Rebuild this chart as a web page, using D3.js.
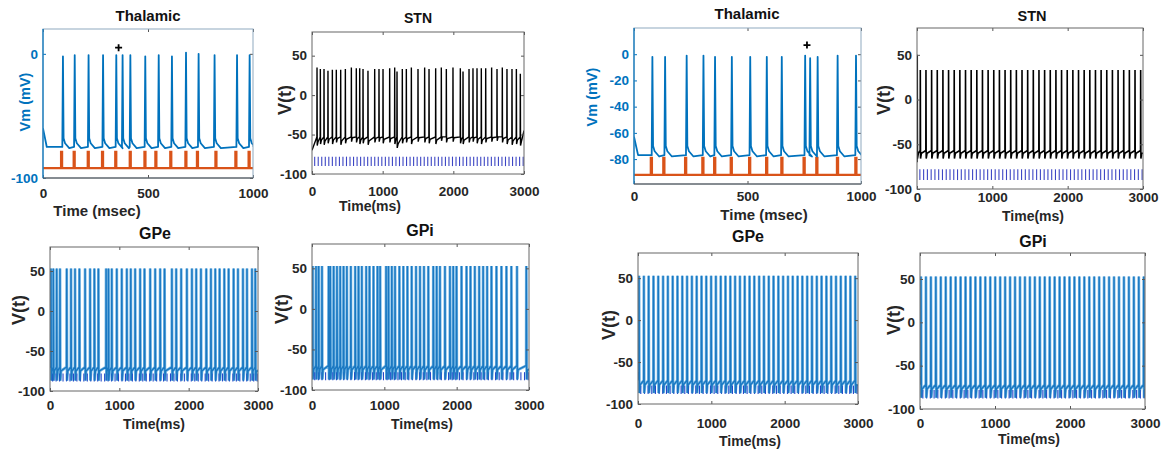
<!DOCTYPE html>
<html>
<head>
<meta charset="utf-8">
<script src="https://cdn.jsdelivr.net/npm/d3@7"></script>
<style>
  body { margin: 0; background: #fff; }
  svg text { font-family: "Liberation Sans", Arial, sans-serif; font-weight: bold; }
</style>
</head>
<body>
<svg id="fig" width="1165" height="455"></svg>
<script>
// ---- data (times in ms, voltages in mV) ----

// Thalamic, left figure
const thalLSpikes = [95, 151, 217, 286, 349, 379, 416, 487, 551, 614, 681, 741, 817, 924, 984];
const thalLPeaks  = [-2, -1, -1, -1, -1, -1, -1, -2, -1, -2, 1, 0, -1, -1, -1];
const thalLPulses = [86, 146, 213, 281, 344, 413, 483, 535, 606, 678, 733, 821, 916, 979];
const thalLMark   = [360, 5];

// Thalamic, right figure
const thalRSpikes = [81, 137, 232, 306, 357, 431, 512, 585, 651, 754, 776, 809, 897, 978];
const thalRPeaks  = [-2, -2, -1, -1, -2, -2, -2, -2, -2, -1, -3, -2, -1, -1];
const thalRPulses = [74, 129, 225, 301, 353, 426, 507, 582, 649, 747, 803, 894, 975];
const thalRMark   = [762, 7];

// STN, left figure (irregular)
const stnLSpikes = [71, 118, 170, 226, 288, 344, 406, 472, 557, 627, 675, 722, 792, 887, 948,
  1005, 1099, 1170, 1203, 1278, 1335, 1406, 1500, 1594, 1656, 1750, 1830, 1901, 1995, 2099,
  2137, 2222, 2278, 2335, 2396, 2458, 2542, 2618, 2693, 2759, 2830, 2892, 2948];
const stnLPeaks = [35, 33, 33, 31, 32, 32, 32, 33, 35, 34, 34, 33, 31, 33, 33,
  33, 34, 35, 30, 33, 33, 35, 33, 35, 33, 34, 35, 33, 35, 34,
  30, 33, 34, 34, 34, 34, 35, 33, 35, 33, 33, 33, 27];
const stnLTroughs = [-64, -62, -63, -61, -62, -60, -63, -61, -59, -60, -62, -61, -63, -60, -59,
  -61, -60, -62, -67, -61, -60, -62, -59, -60, -61, -62, -58, -60, -59, -61,
  -62, -60, -59, -61, -62, -60, -59, -58, -60, -62, -63, -62, -64];

// STN, right figure (regular)
const stnRSpikes = [3, 44, 119, 194, 269, 344, 419, 494, 569, 644, 719, 794, 869, 944, 1019,
  1094, 1169, 1244, 1319, 1394, 1469, 1544, 1619, 1694, 1769, 1844, 1919, 1994, 2069, 2144,
  2219, 2294, 2369, 2444, 2519, 2594, 2669, 2744, 2819, 2894, 2969];
const stnRPeaks = [50, 33, 33, 33, 33, 33, 33, 33, 33, 33, 33, 33, 33, 33, 33,
  33, 33, 33, 33, 33, 33, 33, 33, 33, 33, 33, 33, 33, 33, 33,
  33, 33, 33, 33, 33, 33, 33, 33, 33, 33, 33];

// input pulse train (blue ticks)
const pulseTimes = [38, 88, 138, 188, 238, 288, 338, 388, 438, 488, 538, 588, 638, 688, 738,
  788, 838, 888, 938, 988, 1038, 1088, 1138, 1188, 1238, 1288, 1338, 1388, 1438, 1488,
  1538, 1588, 1638, 1688, 1738, 1788, 1838, 1888, 1938, 1988, 2038, 2088, 2138, 2188, 2238,
  2288, 2338, 2388, 2438, 2488, 2538, 2588, 2638, 2688, 2738, 2788, 2838, 2888, 2938, 2988];

// GPe / GPi spike times
const gpeLSpikes = [14, 48, 96, 144, 241, 303, 361, 424, 506, 578, 640, 698, 809, 843, 891,
  963, 1035, 1108, 1165, 1228, 1300, 1363, 1445, 1517, 1589, 1652, 1758, 1820, 1892, 1974,
  2047, 2109, 2177, 2254, 2321, 2384, 2446, 2514, 2576, 2648, 2711, 2783, 2841, 2913, 2961];
const gpiLSpikes = [9, 55, 92, 138, 230, 253, 299, 345, 390, 436, 482, 537, 597, 643, 689,
  749, 795, 850, 905, 942, 1024, 1057, 1103, 1148, 1208, 1263, 1319, 1378, 1438, 1493,
  1548, 1608, 1677, 1723, 1769, 1838, 1907, 1953, 1998, 2067, 2136, 2191, 2251, 2311, 2366,
  2421, 2481, 2550, 2619, 2688, 2756, 2834, 2963];
const gpeRSpikes = [14, 80, 145, 211, 276, 342, 407, 473, 538, 604, 669, 735, 800, 866, 931,
  997, 1062, 1128, 1193, 1259, 1324, 1390, 1455, 1521, 1586, 1652, 1717, 1783, 1848, 1914,
  1979, 2045, 2110, 2176, 2241, 2307, 2372, 2438, 2503, 2569, 2634, 2700, 2765, 2831, 2896, 2962];
const gpiRSpikes = [13, 79, 145, 211, 277, 343, 409, 475, 541, 607, 673, 739, 805, 871, 937,
  1003, 1069, 1135, 1201, 1267, 1333, 1399, 1465, 1531, 1597, 1663, 1729, 1795, 1861, 1927,
  1993, 2059, 2125, 2191, 2257, 2323, 2389, 2455, 2521, 2587, 2653, 2719, 2785, 2851, 2917, 2983];

const thalTicksX = [0, 500, 1000];
const longTicksX = [0, 1000, 2000, 3000];
const thalLTicksY = [-100, 0];
const thalRTicksY = [-80, -60, -40, -20, 0];
const vTicksY = [-100, -50, 0, 50];

// ---- drawing ----
const svg = d3.select("#fig");
const BLUE = "#0072BD";
const ORANGE = "#D95319";
const line = (x, y) => d3.line().x(d => x(d[0])).y(d => y(d[1]));

// thalamic membrane trace built around the spike times
function thalTrace(spikes, peaks, start, rest) {
  const pts = [[0, start], [18, rest + 1]];
  spikes.forEach((t, i) => {
    pts.push([t - 3, rest + 1]);
    pts.push([t, peaks[i]]);
    pts.push([t + 3, rest + 8]);
    pts.push([t + 10, rest + 4]);
    pts.push([t + 30, rest]);
  });
  pts.push([1000, rest + 2]);
  return pts;
}

// orange stimulus pulse train
function pulseTrace(pulses, base, top) {
  const pts = [[0, base]];
  pulses.forEach(t => {
    pts.push([t, base], [t, top], [t + 5, top], [t + 5, base]);
  });
  pts.push([1000, base]);
  return pts;
}

// fast spiking trace (STN / GP)
function spikeTrace(spikes, peaks, troughs, o) {
  const pts = [[0, o.start]];
  spikes.forEach((t, i) => {
    pts.push([t - 2, o.pre]);
    pts.push([t, peaks[i]]);
    pts.push([t + o.fall, troughs[i]]);
    pts.push([t + 15, troughs[i] + o.recover]);
  });
  pts.push([3000, o.end]);
  return pts;
}

function drawTicks(g, x, y, times, lo, hi, color, w) {
  g.selectAll(null).data(times).enter().append("line")
    .attr("x1", d => x(d)).attr("x2", d => x(d))
    .attr("y1", y(lo)).attr("y2", y(hi))
    .attr("stroke", color).attr("stroke-width", w);
}

function panel(c) {
  const x = d3.scaleLinear().domain(c.xDomain).range([c.x0, c.x1]);
  const y = d3.scaleLinear().domain(c.yDomain).range([c.y1, c.y0]);
  const g = svg.append("g");
  svg.append("clipPath").attr("id", "clip-" + c.id).append("rect")
    .attr("x", c.x0).attr("y", c.y0).attr("width", c.x1 - c.x0).attr("height", c.y1 - c.y0);

  const plot = g.append("g").attr("clip-path", `url(#clip-${c.id})`);
  c.draw(plot, x, y);

  const fmt = d => String(d);
  const ax = g.append("g").attr("transform", `translate(0,${c.y1})`)
    .call(d3.axisBottom(x).tickValues(c.xTicks).tickSize(-3).tickPadding(c.xPad).tickFormat(fmt));
  ax.selectAll("text").attr("fill", "#262626").style("font-size", "13.5px");
  const axT = g.append("g").attr("transform", `translate(0,${c.y0})`)
    .call(d3.axisTop(x).tickValues(c.xTicks).tickSize(-3).tickFormat(""));
  const ay = g.append("g").attr("transform", `translate(${c.x0},0)`)
    .call(d3.axisLeft(y).tickValues(c.yTicks).tickSize(-3).tickPadding(5).tickFormat(fmt));
  ay.selectAll("text").attr("fill", c.yColor || "#262626").style("font-size", "13.5px");
  const ayR = g.append("g").attr("transform", `translate(${c.x1},0)`)
    .call(d3.axisRight(y).tickValues(c.yTicks).tickSize(-3).tickFormat(""));
  [ax, axT, ay, ayR].forEach(a => {
    a.select(".domain").remove();
    a.selectAll(".tick line").attr("stroke", "#555");
  });
  ay.selectAll(".tick line").attr("stroke", c.yColor || "#555");

  // box
  g.append("rect").attr("x", c.x0).attr("y", c.y0)
    .attr("width", c.x1 - c.x0).attr("height", c.y1 - c.y0)
    .attr("fill", "none").attr("stroke", c.boxColor || "#666").attr("stroke-width", 1);
  if (c.yColor) {
    g.append("line").attr("x1", c.x0).attr("x2", c.x0).attr("y1", c.y0).attr("y2", c.y1)
      .attr("stroke", c.yColor).attr("stroke-width", 1.2);
    g.append("line").attr("x1", c.x0).attr("x2", c.x1).attr("y1", c.y1).attr("y2", c.y1)
      .attr("stroke", "#444").attr("stroke-width", 1);
  }

  g.append("text").attr("x", c.titleX).attr("y", c.titleY).attr("text-anchor", "middle")
    .attr("dominant-baseline", "middle").style("font-size", c.titleSize + "px")
    .attr("fill", "#111").text(c.title);
  g.append("text").attr("x", c.xlabX).attr("y", c.xlabY).attr("text-anchor", "middle")
    .attr("dominant-baseline", "middle").style("font-size", c.xlabSize + "px")
    .attr("fill", "#262626").text(c.xlab);
  g.append("text").attr("transform", `translate(${c.ylabX},${c.ylabY}) rotate(-90)`)
    .attr("text-anchor", "middle").attr("dominant-baseline", "middle")
    .style("font-size", c.ylabSize + "px").attr("fill", c.yColor || "#262626").text(c.ylab);
}

function drawThal(spikes, peaks, pulses, mark, start, rest) {
  return (g, x, y) => {
    g.append("path").datum(pulseTrace(pulses, -92, -79)).attr("d", line(x, y))
      .attr("fill", "none").attr("stroke", ORANGE).attr("stroke-width", 2.2);
    g.append("path").datum(thalTrace(spikes, peaks, start, rest)).attr("d", line(x, y))
      .attr("fill", "none").attr("stroke", BLUE).attr("stroke-width", 1.8)
      .attr("stroke-linejoin", "round");
    const mx = x(mark[0]), my = y(mark[1]);
    g.append("path").attr("d", `M${mx - 3.5},${my}H${mx + 3.5}M${mx},${my - 3.5}V${my + 3.5}`)
      .attr("stroke", "#000").attr("stroke-width", 1.8);
  };
}

function drawStn(spikes, peaks, troughs, o) {
  return (g, x, y) => {
    drawTicks(g, x, y, pulseTimes, -90, -78, "#3d46c4", 1.1);
    g.append("path").datum(spikeTrace(spikes, peaks, troughs, o)).attr("d", line(x, y))
      .attr("fill", "none").attr("stroke", "#000").attr("stroke-width", o.width);
  };
}

function drawGp(spikes, o) {
  const peaks = spikes.map(() => 53);
  const troughs = spikes.map(() => o.trough);
  return (g, x, y) => {
    const pts = spikeTrace(spikes, peaks, troughs, o);
    g.append("path").datum(pts).attr("d", line(x, y))
      .attr("fill", "none").attr("stroke", "#74b6e4").attr("stroke-width", 2.8);
    drawTicks(g, x, y, pulseTimes, -88, -78, "#2448c8", 1.1);
    g.append("path").datum(pts).attr("d", line(x, y))
      .attr("fill", "none").attr("stroke", "#1a78c2").attr("stroke-width", 1.4);
  };
}

const stnLOpts = { start: -70, pre: -53, fall: 3, recover: 5, end: -45, width: 1.4 };
const stnRTroughs = stnRSpikes.map(() => -66);
const stnROpts = { start: -70, pre: -57, fall: 3, recover: 6, end: -60, width: 1.6 };
const gpLOpts = { start: -70, pre: -70, fall: 5, recover: 12, end: -75, trough: -87 };
const gpROpts = { start: -62, pre: -72, fall: 5, recover: 10, end: -78, trough: -87 };

const panels = [
  { id: "thalL", x0: 43, x1: 253, y0: 29, y1: 178, xDomain: [0, 1000], yDomain: [-100, 20],
    xTicks: thalTicksX, yTicks: thalLTicksY, xPad: 10, yColor: BLUE, boxColor: "#8fa9bf",
    title: "Thalamic", titleX: 148, titleY: 17, titleSize: 15,
    xlab: "Time (msec)", xlabX: 97, xlabY: 212, xlabSize: 15,
    ylab: "Vm (mV)", ylabX: 26, ylabY: 102, ylabSize: 14.5,
    draw: drawThal(thalLSpikes, thalLPeaks, thalLPulses, thalLMark, -60, -76) },
  { id: "stnL", x0: 312, x1: 524, y0: 32, y1: 174, xDomain: [0, 3000], yDomain: [-100, 80],
    xTicks: longTicksX, yTicks: vTicksY, xPad: 12,
    title: "STN", titleX: 418, titleY: 19, titleSize: 14,
    xlab: "Time(ms)", xlabX: 370, xlabY: 207, xlabSize: 14,
    ylab: "V(t)", ylabX: 286, ylabY: 100, ylabSize: 18,
    draw: drawStn(stnLSpikes, stnLPeaks, stnLTroughs, stnLOpts) },
  { id: "gpeL", x0: 50, x1: 258, y0: 247, y1: 391, xDomain: [0, 3000], yDomain: [-100, 80],
    xTicks: longTicksX, yTicks: vTicksY, xPad: 9,
    title: "GPe", titleX: 155, titleY: 235, titleSize: 16,
    xlab: "Time(ms)", xlabX: 154, xlabY: 425, xlabSize: 14,
    ylab: "V(t)", ylabX: 20, ylabY: 310, ylabSize: 18,
    draw: drawGp(gpeLSpikes, gpLOpts) },
  { id: "gpiL", x0: 312, x1: 529, y0: 244, y1: 390, xDomain: [0, 3000], yDomain: [-100, 80],
    xTicks: longTicksX, yTicks: vTicksY, xPad: 10,
    title: "GPi", titleX: 420, titleY: 232, titleSize: 16,
    xlab: "Time(ms)", xlabX: 422, xlabY: 425, xlabSize: 14,
    ylab: "V(t)", ylabX: 283, ylabY: 309, ylabSize: 18,
    draw: drawGp(gpiLSpikes, gpLOpts) },
  { id: "thalR", x0: 634, x1: 861, y0: 28, y1: 184, xDomain: [0, 1000], yDomain: [-99, 20],
    xTicks: thalTicksX, yTicks: thalRTicksY, xPad: 7, yColor: BLUE, boxColor: "#8fa9bf",
    title: "Thalamic", titleX: 747, titleY: 15, titleSize: 15,
    xlab: "Time (msec)", xlabX: 764, xlabY: 216, xlabSize: 15,
    ylab: "Vm (mV)", ylabX: 593, ylabY: 97, ylabSize: 14.5,
    draw: drawThal(thalRSpikes, thalRPeaks, thalRPulses, thalRMark, -63, -78) },
  { id: "stnR", x0: 917, x1: 1143, y0: 28, y1: 189, xDomain: [0, 3000], yDomain: [-100, 80],
    xTicks: longTicksX, yTicks: vTicksY, xPad: 3,
    title: "STN", titleX: 1032, titleY: 17, titleSize: 14.5,
    xlab: "Time(ms)", xlabX: 1033, xlabY: 217, xlabSize: 14,
    ylab: "V(t)", ylabX: 885, ylabY: 100, ylabSize: 18,
    draw: drawStn(stnRSpikes, stnRPeaks, stnRTroughs, stnROpts) },
  { id: "gpeR", x0: 638, x1: 858, y0: 253, y1: 404, xDomain: [0, 3000], yDomain: [-100, 80],
    xTicks: longTicksX, yTicks: vTicksY, xPad: 14,
    title: "GPe", titleX: 748, titleY: 238, titleSize: 16,
    xlab: "Time(ms)", xlabX: 750, xlabY: 442, xlabSize: 14,
    ylab: "V(t)", ylabX: 610, ylabY: 325, ylabSize: 18,
    draw: drawGp(gpeRSpikes, gpROpts) },
  { id: "gpiR", x0: 920, x1: 1145, y0: 253, y1: 409, xDomain: [0, 3000], yDomain: [-100, 80],
    xTicks: longTicksX, yTicks: vTicksY, xPad: 9,
    title: "GPi", titleX: 1033, titleY: 243, titleSize: 16,
    xlab: "Time(ms)", xlabX: 1029, xlabY: 440, xlabSize: 14,
    ylab: "V(t)", ylabX: 895, ylabY: 320, ylabSize: 18,
    draw: drawGp(gpiRSpikes, gpROpts) }
];

panels.forEach(panel);
</script>
</body>
</html>
